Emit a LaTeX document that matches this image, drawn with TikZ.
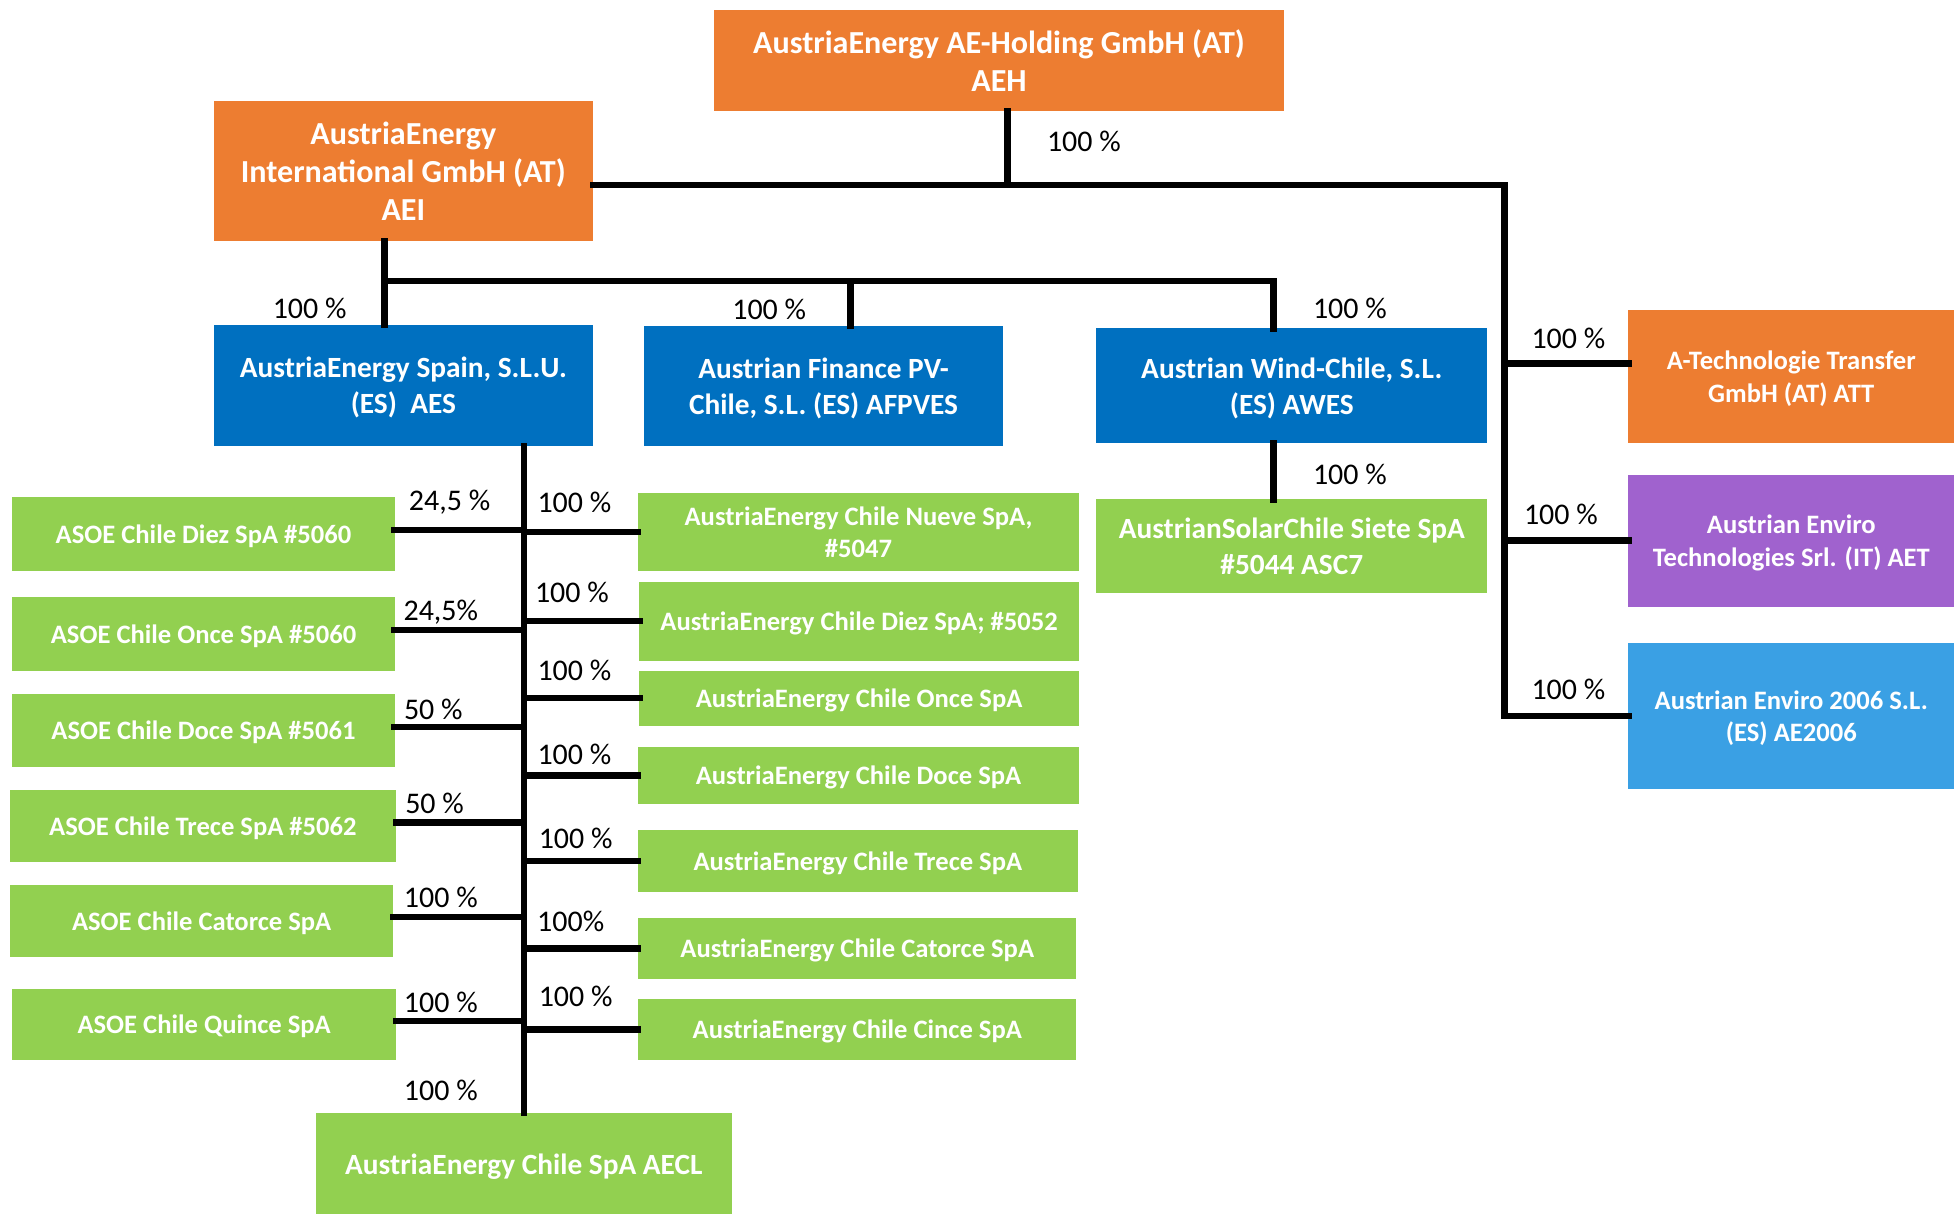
\documentclass[tikz,border=0pt]{standalone}
\usepackage{fontspec}
\setmainfont{Carlito}
\definecolor{aeorange}{HTML}{ED7D31}
\definecolor{aeblue}{HTML}{0070C0}
\definecolor{aegreen}{HTML}{92D050}
\definecolor{aepurple}{HTML}{A062CE}
\definecolor{aesky}{HTML}{3AA0E4}
\tikzset{
	orgbox/.style={fill=#1,text=white,align=center,inner sep=0pt,outer sep=0pt,text depth=0pt},
	pct/.style={font=\fontsize{24}{26}\selectfont,inner sep=0pt},
	link/.style={line width=5.2pt,line cap=rect}
}
\begin{document}
\begin{tikzpicture}[x=1pt,y=-1pt]
	\def\bigsz{\fontsize{25.7}{30.5}\selectfont\bfseries}
	\def\midsz{\fontsize{23.5}{29}\selectfont\bfseries}
	\def\smlsz{\fontsize{21.3}{26}\selectfont\bfseries}
	\useasboundingbox (0,0) rectangle (1568,972);
	% Holding und erste Ebene
	\node[orgbox=aeorange,minimum width=456,minimum height=81,font=\bigsz] (aeh) at (800,48.5) {AustriaEnergy AE-Holding GmbH (AT)\\AEH};
	\node[orgbox=aeorange,minimum width=304,minimum height=112,font=\bigsz] (aei) at (323,137) {AustriaEnergy\\International GmbH (AT)\\AEI};
	\node[orgbox=aeblue,minimum width=304,minimum height=97,font=\midsz] (aes) at (323,308.5) {AustriaEnergy Spain, S.L.U.\\(ES)\ \ AES};
	\node[orgbox=aeblue,minimum width=287,minimum height=96,font=\midsz] (afpves) at (659.5,309) {Austrian Finance PV-\\Chile, S.L. (ES) AFPVES};
	\node[orgbox=aeblue,minimum width=313,minimum height=92,font=\midsz] (awes) at (1034.5,309) {Austrian Wind-Chile, S.L.\\(ES) AWES};
	\node[orgbox=aegreen,minimum width=313,minimum height=75,font=\midsz] (asc7) at (1034.5,437.5) {AustrianSolarChile Siete SpA\\\#5044 ASC7};
	% rechte Spalte
	\node[orgbox=aeorange,minimum width=261,minimum height=107,font=\smlsz] (att) at (1434.5,301.5) {A-Technologie Transfer\\GmbH (AT) ATT};
	\node[orgbox=aepurple,minimum width=261,minimum height=106,font=\smlsz] (aet) at (1434.5,433) {Austrian Enviro\\Technologies Srl. (IT) AET};
	\node[orgbox=aesky,minimum width=261,minimum height=117,font=\smlsz] (ae2006) at (1434.5,573.5) {Austrian Enviro 2006 S.L.\\(ES) AE2006};
	% ASOE links
	\node[orgbox=aegreen,minimum width=306,minimum height=59,font=\smlsz] (asoe10) at (163,427.5) {ASOE Chile Diez SpA \#5060};
	\node[orgbox=aegreen,minimum width=306,minimum height=59,font=\smlsz] (asoe11) at (163,507.5) {ASOE Chile Once SpA \#5060};
	\node[orgbox=aegreen,minimum width=306,minimum height=58,font=\smlsz] (asoe12) at (163,585) {ASOE Chile Doce SpA \#5061};
	\node[orgbox=aegreen,minimum width=309,minimum height=57,font=\smlsz] (asoe13) at (162.5,661.5) {ASOE Chile Trece SpA \#5062};
	\node[orgbox=aegreen,minimum width=307,minimum height=57,font=\smlsz] (asoe14) at (161.5,737.5) {ASOE Chile Catorce SpA};
	\node[orgbox=aegreen,minimum width=307,minimum height=57,font=\smlsz] (asoe15) at (163.5,820.5) {ASOE Chile Quince SpA};
	% AustriaEnergy Chile rechts
	\node[orgbox=aegreen,minimum width=353,minimum height=62,font=\smlsz] (aec9) at (687.5,426) {AustriaEnergy Chile Nueve SpA,\\\#5047};
	\node[orgbox=aegreen,minimum width=352,minimum height=63,font=\smlsz] (aec10) at (688,497.5) {AustriaEnergy Chile Diez SpA; \#5052};
	\node[orgbox=aegreen,minimum width=352,minimum height=44,font=\smlsz] (aec11) at (688,559) {AustriaEnergy Chile Once SpA};
	\node[orgbox=aegreen,minimum width=353,minimum height=46,font=\smlsz] (aec12) at (687.5,621) {AustriaEnergy Chile Doce SpA};
	\node[orgbox=aegreen,minimum width=352,minimum height=49,font=\smlsz] (aec13) at (687,689.5) {AustriaEnergy Chile Trece SpA};
	\node[orgbox=aegreen,minimum width=351,minimum height=49,font=\smlsz] (aec14) at (686.5,759.5) {AustriaEnergy Chile Catorce SpA};
	\node[orgbox=aegreen,minimum width=351,minimum height=49,font=\smlsz] (aec15) at (686.5,824.5) {AustriaEnergy Chile Cince SpA};
	\node[orgbox=aegreen,minimum width=333,minimum height=82,font=\midsz] (aecl) at (419.5,932) {AustriaEnergy Chile SpA AECL};
	% Stromschienen
	\coordinate (top) at (807,148);
	\coordinate (rail) at (1205,148);
	\coordinate (bus1) at (308,225);
	\coordinate (bus2) at (681,225);
	\coordinate (bus3) at (1020,225);
	\draw[link] (aeh.south -| top) -- (top);
	\draw[link] (aei.east |- top) -- (rail) -- (rail |- ae2006.west) -- (ae2006.west);
	\draw[link] (rail |- 0,291) -- (att.west |- 0,291);
	\draw[link] (rail |- aet.west) -- (aet.west);
	\draw[link] (aei.south -| bus1) -- (aes.north -| bus1);
	\draw[link] (bus1) -- (bus3) -- (awes.north -| bus3);
	\draw[link] (bus2) -- (afpves.north -| bus2);
	\draw[link] (awes.south -| bus3) -- (asc7.north -| bus3);
	\draw[link] (aes.south -| aecl.north) -- (aecl.north);
	\foreach \n in {asoe10,asoe11,asoe12,asoe13,asoe14,asoe15}
		\draw[link] ([yshift=3]\n.east) -- ([yshift=3]\n.east -| aecl.north);
	\foreach \n in {aec9,aec10,aec11,aec12,aec13,aec14,aec15}
		\draw[link] (\n.west) -- (\n.west -| aecl.north);
	% Anteile
	\node[pct] (p0) at (868,113) {100 \%};
	\node[pct] (p1) at (248,247) {100 \%};
	\node[pct] (p2) at (616,248) {100 \%};
	\node[pct] (p3) at (1081,247) {100 \%};
	\node[pct] (p4) at (1081,380) {100 \%};
	\node[pct] (p5) at (1256,271) {100 \%};
	\node[pct] (p6) at (1250,412) {100 \%};
	\node[pct] (p7) at (1256,552) {100 \%};
	\node[pct] (q1) at (360,402) {24,5 \%};
	\node[pct] (q2) at (353,490) {24,5\%};
	\node[pct] (q3) at (347,568) {50 \%};
	\node[pct] (q4) at (348,643) {50 \%};
	\node[pct] (q5) at (353,719) {100 \%};
	\node[pct] (q6) at (353,803) {100 \%};
	\node[pct] (r1) at (460,402) {100 \%};
	\node[pct] (r2) at (458,474) {100 \%};
	\node[pct] (r3) at (460,537) {100 \%};
	\node[pct] (r4) at (460,604) {100 \%};
	\node[pct] (r5) at (461,671) {100 \%};
	\node[pct] (r6) at (457,738) {100\%};
	\node[pct] (r7) at (461,798) {100 \%};
	\node[pct] (p8) at (353,873) {100 \%};
\end{tikzpicture}
\end{document}
